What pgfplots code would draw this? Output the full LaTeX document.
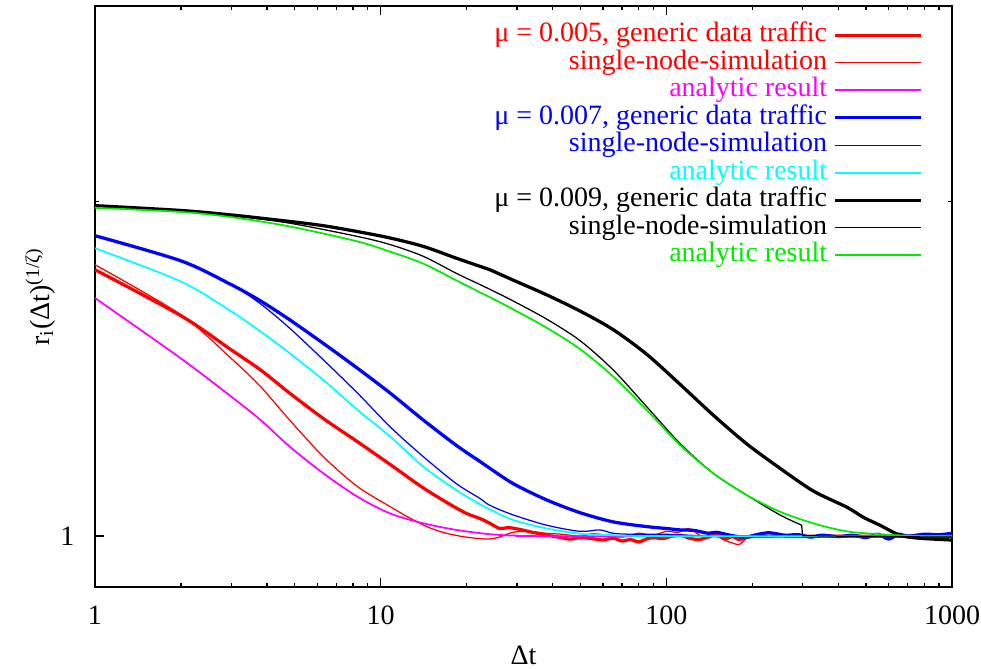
\documentclass[border=0pt]{standalone}
\usepackage{pgfplots}
\pgfplotsset{compat=1.18}
\usepackage{fontspec}
\setmainfont{Liberation Serif}
\newcommand{\fs}{\fontsize{11.2}{13}\selectfont}
\definecolor{gpred}{RGB}{255,0,0}
\definecolor{gpmagenta}{RGB}{255,0,255}
\definecolor{gpblue}{RGB}{0,0,255}
\definecolor{gpcyan}{RGB}{0,255,255}
\definecolor{gpgreen}{RGB}{0,235,0}
\begin{document}
\begin{tikzpicture}
\begin{axis}[
  at={(0,0)}, anchor=south west,
  scale only axis, width=342.8pt, height=232.4pt,
  xmode=log, ymode=log,
  xmin=1, xmax=1000, ymin=0.9, ymax=3,
  xtick={1,10,100,1000}, xticklabels={1,10,100,1000},
  minor xtick={2,3,4,5,6,7,8,9,20,30,40,50,60,70,80,90,200,300,400,500,600,700,800,900},
  ytick={1}, yticklabels={1}, minor ytick={2},
  major tick length=3.6pt, minor tick length=1.8pt,
  tick align=inside,
  axis line style={line width=0.6pt},
  every tick/.style={line width=0.6pt, black},
  /pgf/number format/assume math mode=true,
  tick label style={font=\fs, inner sep=0pt},
  xticklabel style={yshift=-7.4pt},
  yticklabel style={xshift=-8pt},
  xlabel={Δt}, ylabel={r\textsubscript{i}(Δt)\textsuperscript{(1/ζ)}},
  label style={font=\fs},
  xlabel style={at={(axis description cs:0.5,-0.117)}, anchor=center, inner sep=0pt},
  ylabel style={at={(axis description cs:-0.064,0.5)}, anchor=center, inner sep=0pt},
  legend image code/.code={\draw[#1] (0pt,0pt) -- (34.2pt,0pt);},
  legend cell align=right,
  legend plot pos=right,
  legend style={draw=none, fill=none, at={(axis description cs:0.966,0.974)}, anchor=north east,
    font=\fs, row sep=0pt, column sep=0pt, inner sep=0pt,
    nodes={inner ysep=0.4pt, inner xsep=2.6pt, text height=7.6pt, text depth=2.6pt}},
  every axis plot/.append style={smooth, tension=0.5},
]
% mu = 0.005 generic
\addplot[gpred, line width=1.3pt] table {
1 1.737
2 1.579
3 1.471
3.8 1.411
4.8 1.345
6.3 1.276
8.3 1.216
10.8 1.160
14.1 1.105
17.5 1.068
20 1.048
22.3 1.037
24.1 1.027
26.1 1.016
28 1.018
30.7 1.014
34 1.008
38.1 1.002
42 0.998
46 0.994
50 0.997
55 0.995
60 0.992
65 0.996
70 0.990
75 0.993
80 0.988
85 0.994
90 0.997
97 0.995
105 1.000
112 1.002
120 0.996
130 0.993
140 0.998
150 1.003
160 0.994
170 0.999
180 0.993
190 0.997
200 0.999
230 1.000
300 1.000
500 1.000
1000 1.000
};
\addlegendentry{\textcolor{gpred}{μ = 0.005, generic data traffic}}
\addplot[gpred, line width=0.5pt] table {
1 1.755
2 1.582
3 1.445
3.8 1.363
4.8 1.272
6.3 1.179
8.3 1.108
10.8 1.063
12.5 1.040
14.5 1.020
16.5 1.008
19.4 0.999
23.5 0.994
26 0.998
29 1.008
33 1.010
38 1.006
43 1.004
50 1.000
55 1.005
60 1.003
70 0.998
80 1.006
90 1.002
100 1.010
110 1.008
120 1.016
130 1.003
140 0.996
150 1.006
160 0.992
170 0.986
180 0.983
190 0.995
200 1.003
220 0.998
260 1.000
1000 1.000
};
\addlegendentry{\textcolor{gpred}{single-node-simulation}}
\addplot[gpmagenta, line width=0.7pt] table {
1 1.638
2 1.445
3 1.335
3.8 1.272
4.8 1.204
6.3 1.139
8.3 1.085
10.8 1.048
14.1 1.027
18.4 1.013
24.1 1.004
30 1.001
40 1.000
1000 1.000
};
\addlegendentry{\textcolor{gpmagenta}{analytic result}}
% mu = 0.007
\addplot[gpblue, line width=1.3pt] table {
1 1.864
2 1.769
3 1.684
3.8 1.628
4.8 1.566
6.3 1.491
8.3 1.416
10.8 1.345
14.1 1.272
18.4 1.207
22.3 1.167
24.1 1.151
29.1 1.115
38.1 1.078
49.8 1.050
65.2 1.030
85.3 1.020
100 1.016
111.6 1.013
125 1.012
140 1.006
150 1.008
170 1.001
190 0.998
210 1.004
230 1.007
260 1.002
290 1.003
320 0.998
350 1.002
400 0.999
450 1.002
500 0.997
550 1.004
600 0.994
650 1.004
700 1.000
800 1.004
900 1.003
1000 1.006
};
\addlegendentry{\textcolor{gpblue}{μ = 0.007, generic data traffic}}
\addplot[gpblue, line width=0.5pt] table {
1 1.864
2 1.769
3 1.684
3.8 1.618
4.8 1.539
6.3 1.441
8.3 1.345
10.8 1.254
14.1 1.179
18.4 1.115
22.3 1.081
24.1 1.066
29.1 1.045
38.1 1.023
49.8 1.010
58.5 1.013
65 1.006
74.5 1.004
97.6 1.004
120 1.002
150 0.999
200 1.001
300 0.999
500 1.001
1000 1.002
};
\addlegendentry{\textcolor{gpblue}{single-node-simulation}}
\addplot[gpcyan, line width=0.7pt] table {
1 1.816
2 1.695
3 1.593
3.8 1.528
4.8 1.461
6.3 1.382
8.3 1.299
10.8 1.229
14.1 1.155
18.4 1.100
22.3 1.068
24.1 1.057
29.1 1.034
38.1 1.016
49.8 1.005
65 1.002
100 1.000
1000 1.000
};
\addlegendentry{\textcolor{gpcyan}{analytic result}}
% mu = 0.009
\addplot[black, line width=1.3pt] table {
1 1.984
2 1.964
3 1.946
4.8 1.920
6.3 1.903
8.3 1.880
10.8 1.855
14.1 1.823
18.4 1.779
22.3 1.749
24.1 1.737
29.1 1.700
38.1 1.649
50 1.594
65.2 1.534
85.3 1.458
111.6 1.370
146 1.285
191 1.211
250 1.151
327 1.098
428 1.062
489 1.040
559 1.023
657 1.002
760 0.996
1000 0.992
};
\addlegendentry{\textcolor{black}{μ = 0.009, generic data traffic}}
\addplot[black, line width=0.5pt] table {
1 1.984
2 1.962
3 1.944
4.8 1.913
8.3 1.861
10.8 1.830
14.1 1.786
18.4 1.724
22.3 1.684
24.1 1.668
29.1 1.628
38.1 1.568
49.8 1.500
65.2 1.411
85.3 1.308
111.6 1.212
146 1.139
191 1.089
249.8 1.045
297.6 1.023
};
\addlegendentry{\textcolor{black}{single-node-simulation}}
\addplot[gpgreen, line width=0.7pt] table {
1 1.975
2 1.958
3 1.937
4.8 1.900
8.3 1.842
10.8 1.803
14.1 1.759
18.4 1.699
22.3 1.657
24.1 1.641
29.1 1.600
38.1 1.540
49.8 1.474
65.2 1.392
85.3 1.299
111.6 1.208
146 1.139
191 1.089
249.8 1.052
326.8 1.027
427.6 1.010
559 1.004
700 1.001
1000 1.000
};
\addlegendentry{\textcolor{gpgreen}{analytic result}}
\addplot[black, line width=0.5pt, sharp plot, forget plot] table {
297.6 1.023
300 1.001
400 1.000
600 0.999
1000 0.998
};
\end{axis}
\path (-38pt,-32.4pt) rectangle (354.4pt,234.8pt);
\end{tikzpicture}
\end{document}
